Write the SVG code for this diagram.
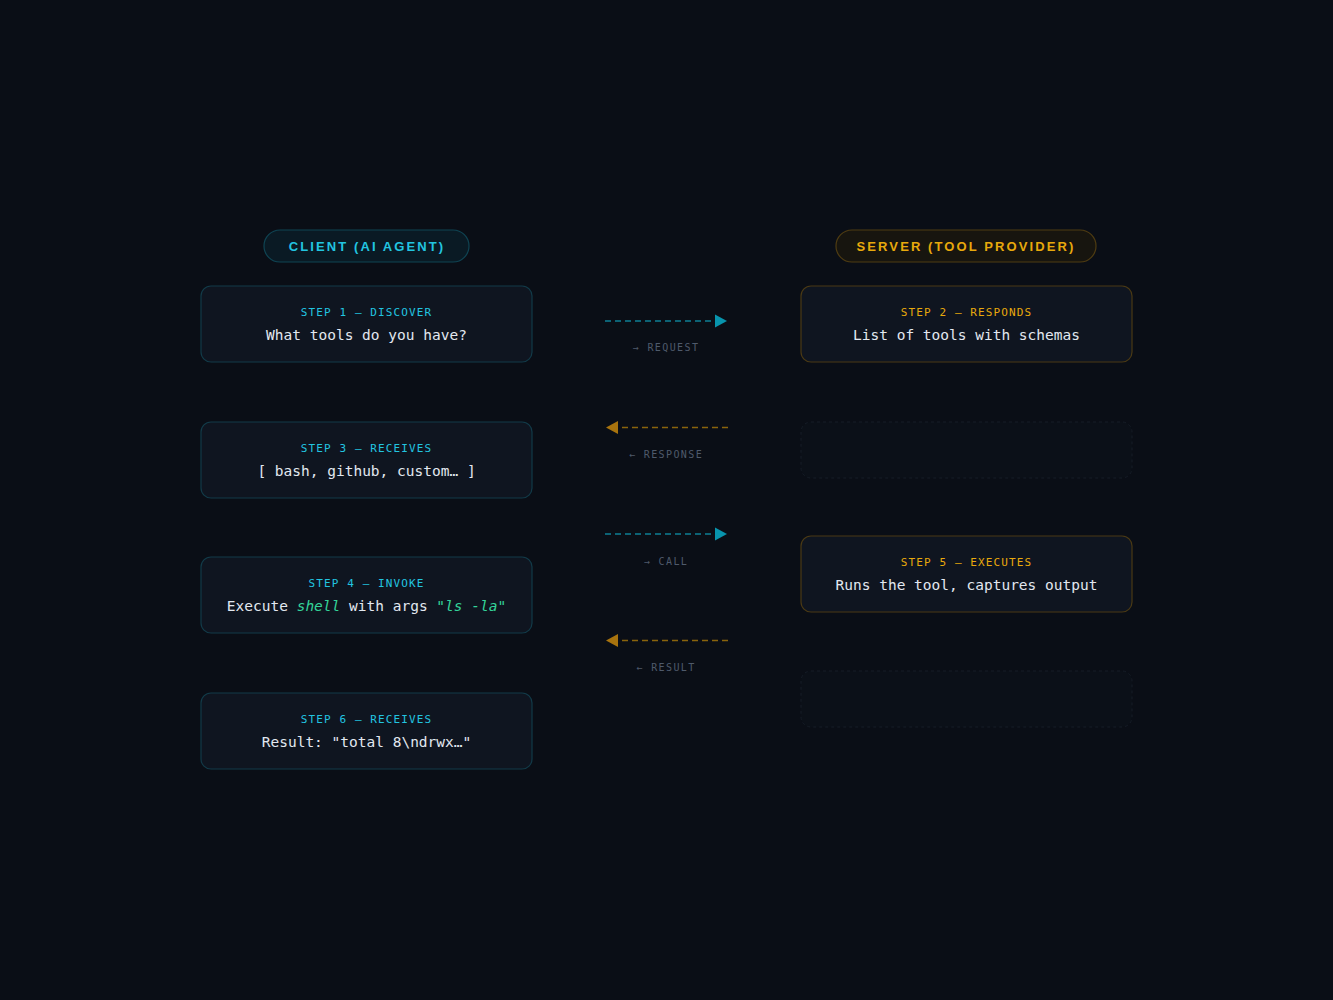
<svg xmlns="http://www.w3.org/2000/svg" width="1333" height="1000" viewBox="0 0 1333 1000">
<defs>
<style>
.bg{fill:#0a0e16}
.pill-c{fill:#0a1a24;stroke:#0f4453;stroke-width:1.2}
.pill-s{fill:#17150f;stroke:#4f3c12;stroke-width:1.2}
.ptxt{font-family:"Liberation Sans",Arial,sans-serif;font-weight:700;font-size:13px;letter-spacing:2.1px;text-anchor:middle}
.box-c{fill:#0f1520;stroke:#123a48;stroke-width:1.2}
.box-s{fill:#0f1520;stroke:#4a3914;stroke-width:1.2}
.ghost{fill:#0b1018;stroke:#161d27;stroke-width:1;stroke-dasharray:3 3}
.step{font-family:"DejaVu Sans Mono","Liberation Mono",monospace;font-size:11px;letter-spacing:1.1px;text-anchor:middle}
.main{font-family:"DejaVu Sans Mono","Liberation Mono",monospace;font-size:14.5px;fill:#e2e8f0;text-anchor:middle}
.hl{fill:#34d399;font-style:italic}
.cy{fill:#22c5e0}
.am{fill:#e8a90c}
.lnc{stroke:#0e7f95;stroke-width:1.6;stroke-dasharray:6 4;fill:none}
.lna{stroke:#8a640c;stroke-width:1.6;stroke-dasharray:6 4;fill:none}
.lbl{font-family:"DejaVu Sans Mono","Liberation Mono",monospace;font-size:10px;letter-spacing:1.4px;fill:#4f5a6b;text-anchor:middle}
</style>
</defs>
<rect class="bg" x="0" y="0" width="1333" height="1000"/>

<g id="client-header">
<rect class="pill-c" x="264" y="230" width="205" height="32" rx="16"/>
<text class="ptxt cy" x="367" y="250.5">CLIENT (AI AGENT)</text>
</g>
<g id="server-header">
<rect class="pill-s" x="836" y="230" width="260" height="32" rx="16"/>
<text class="ptxt am" x="966" y="250.5">SERVER (TOOL PROVIDER)</text>
</g>

<g id="step1">
<rect class="box-c" x="201" y="286" width="331" height="76" rx="10"/>
<text class="step cy" x="366.5" y="316">STEP 1 — DISCOVER</text>
<text class="main" x="366.5" y="340">What tools do you have?</text>
</g>
<g id="step3">
<rect class="box-c" x="201" y="422" width="331" height="76" rx="10"/>
<text class="step cy" x="366.5" y="451.5">STEP 3 — RECEIVES</text>
<text class="main" x="366.5" y="475.5">[ bash, github, custom… ]</text>
</g>
<g id="step4">
<rect class="box-c" x="201" y="557" width="331" height="76" rx="10"/>
<text class="step cy" x="366.5" y="587">STEP 4 — INVOKE</text>
<text class="main" x="366.5" y="611">Execute <tspan class="hl">shell</tspan> with args <tspan class="hl">"ls -la"</tspan></text>
</g>
<g id="step6">
<rect class="box-c" x="201" y="693" width="331" height="76" rx="10"/>
<text class="step cy" x="366.5" y="722.5">STEP 6 — RECEIVES</text>
<text class="main" x="366.5" y="746.5">Result: "total 8\ndrwx…"</text>
</g>

<g id="step2">
<rect class="box-s" x="801" y="286" width="331" height="76" rx="10"/>
<text class="step am" x="966.5" y="316">STEP 2 — RESPONDS</text>
<text class="main" x="966.5" y="340">List of tools with schemas</text>
</g>
<g id="placeholder1">
<rect class="ghost" x="801" y="422" width="331" height="56" rx="10"/>
</g>
<g id="step5">
<rect class="box-s" x="801" y="536" width="331" height="76" rx="10"/>
<text class="step am" x="966.5" y="566">STEP 5 — EXECUTES</text>
<text class="main" x="966.5" y="590">Runs the tool, captures output</text>
</g>
<g id="placeholder2">
<rect class="ghost" x="801" y="671" width="331" height="56" rx="10"/>
</g>

<g id="connectors">
<line class="lnc" x1="605" y1="321" x2="716" y2="321"/>
<polygon points="715,314.5 727,321 715,327.5" fill="#0894ad"/>
<text class="lbl" x="666" y="350.5">→ REQUEST</text>

<line class="lna" x1="728" y1="427.5" x2="617" y2="427.5"/>
<polygon points="618,421 606,427.5 618,434" fill="#a8730e"/>
<text class="lbl" x="666" y="457.5">← RESPONSE</text>

<line class="lnc" x1="605" y1="534" x2="716" y2="534"/>
<polygon points="715,527.5 727,534 715,540.5" fill="#0894ad"/>
<text class="lbl" x="666" y="564.5">→ CALL</text>

<line class="lna" x1="728" y1="640.5" x2="617" y2="640.5"/>
<polygon points="618,634 606,640.5 618,647" fill="#a8730e"/>
<text class="lbl" x="666" y="670.5">← RESULT</text>
</g>
</svg>
